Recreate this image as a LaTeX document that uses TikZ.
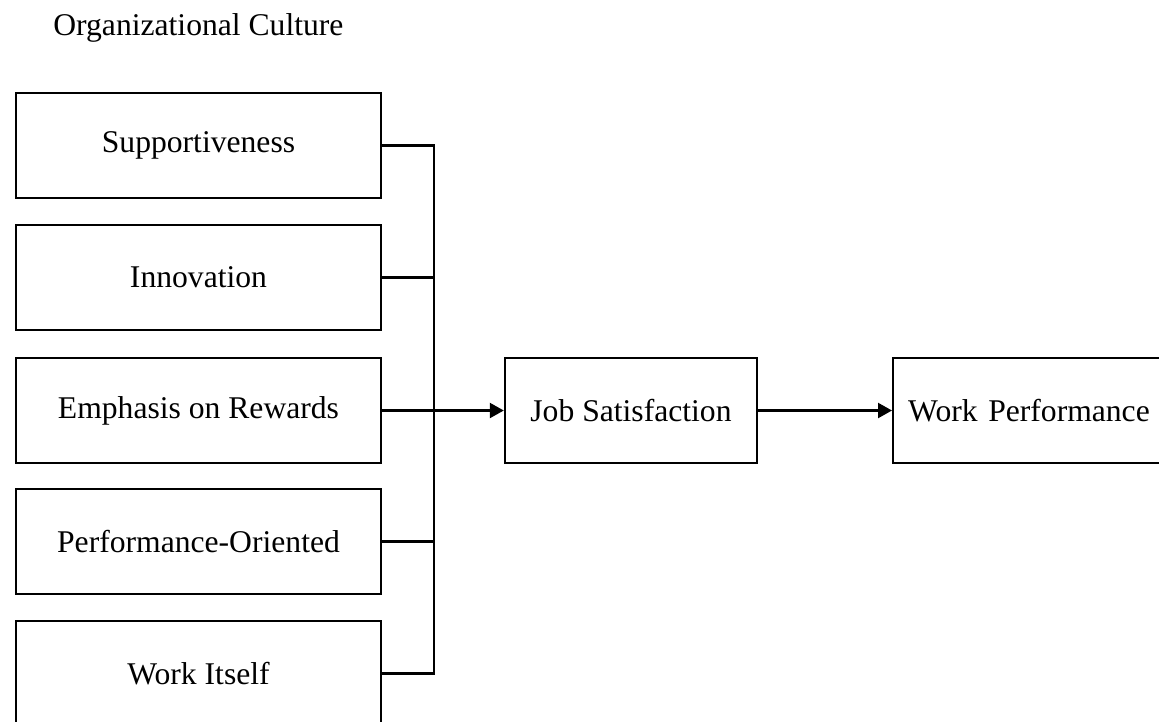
\documentclass[tikz,border=0pt]{standalone}
\usepackage{fontspec}
\setmainfont{Liberation Serif}
\usetikzlibrary{arrows.meta}
\begin{document}
\begin{tikzpicture}[x=0.02cm,y=-0.02cm,
	factorbox/.style={draw,line width=1.4pt,minimum width=7.3cm,minimum height=2.1cm,inner sep=0pt},
	resultbox/.style={draw,line width=1.4pt,minimum height=2.1cm,inner sep=0pt},
	link/.style={line width=1.3pt},
	arr/.style={line width=1.3pt,-{Triangle[length=0.28cm,width=0.3cm]}},
	font=\fontsize{18}{22}\selectfont]
	\useasboundingbox (0,0) rectangle (1159,721);
	\clip (0,0) rectangle (1159,721);
	\node[anchor=base west,inner sep=0pt] (title) at (53,35) {Organizational Culture};
	\node[factorbox] (supp) at (198.5,145.5) {Supportiveness};
	\node[factorbox] (inno) at (198.5,277.5) {Innovation};
	\node[factorbox] (rewa) at (198.5,410.5) {Emphasis on Rewards};
	\node[factorbox] (perf) at (198.5,541.5) {Performance-Oriented};
	\node[factorbox] (itse) at (198.5,673.5) {Work Itself};
	\node[resultbox,minimum width=5.04cm] (jobs) at (631,410.5) {Job Satisfaction};
	\node[resultbox,anchor=west,text width=5.4cm,inner xsep=0.3cm,align=left] (work) at (892,410.5) {Work Performance};
	\coordinate (bus) at (434,0);
	\draw[link] (supp.east) -- (supp.east -| bus) -- (itse.east -| bus) -- (itse.east);
	\draw[link] (inno.east) -- (inno.east -| bus);
	\draw[link] (perf.east) -- (perf.east -| bus);
	\draw[arr] (rewa.east) -- (jobs.west);
	\draw[arr] (jobs.east) -- (work.west);
\end{tikzpicture}
\end{document}
